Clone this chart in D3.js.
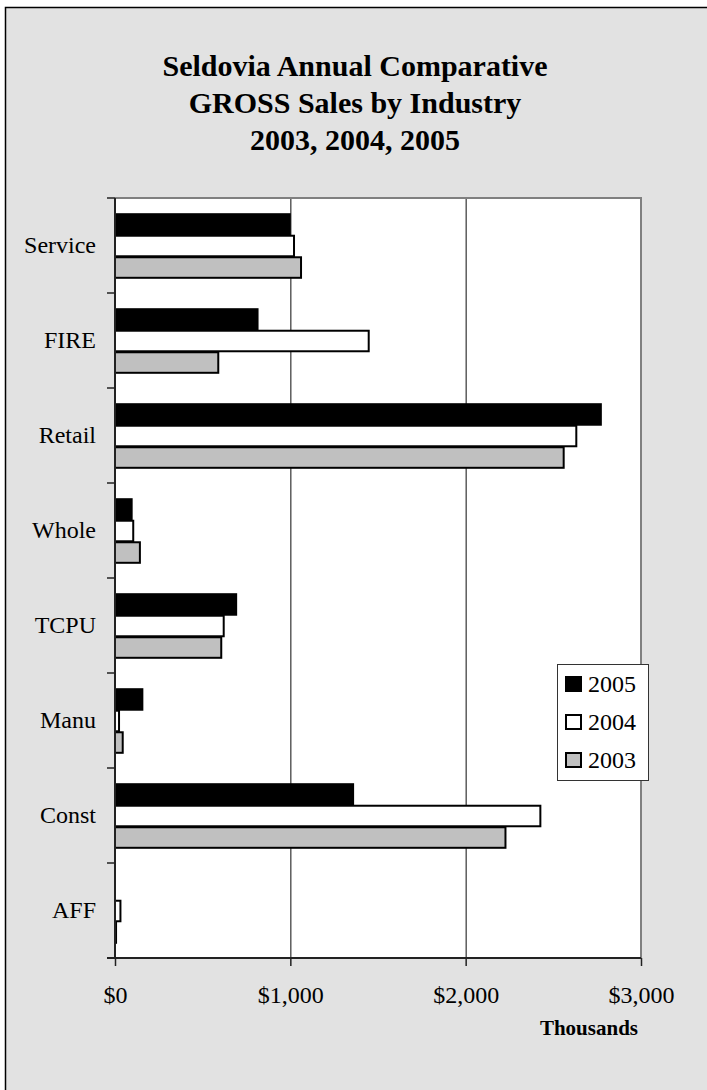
<!DOCTYPE html>
<html>
<head>
<meta charset="utf-8">
<script src="https://cdn.jsdelivr.net/npm/d3@7"></script>
<style>
  html, body { margin: 0; padding: 0; background: #ffffff; }
  svg { display: block; }
  text { font-family: "Liberation Serif", "Times New Roman", serif; fill: #000; }
</style>
</head>
<body>
<svg id="chart" width="707" height="1090"></svg>
<script>
const categories = ["Service", "FIRE", "Retail", "Whole", "TCPU", "Manu", "Const", "AFF"];
const seriesNames = ["2005", "2004", "2003"];
const values2005 = [997, 813, 2771, 95, 691, 156, 1358, 0];
const values2004 = [1021, 1447, 2631, 104, 620, 23, 2426, 31];
const values2003 = [1061, 589, 2559, 142, 606, 44, 2227, 6];
const xTicks = [0, 1000, 2000, 3000];
const titleLines = ["Seldovia Annual Comparative", "GROSS Sales by Industry", "2003, 2004, 2005"];
const axisTitle = "Thousands";

(function () {
const seriesValues = { "2005": values2005, "2004": values2004, "2003": values2003 };
const fills = { "2005": "#000000", "2004": "#ffffff", "2003": "#c0c0c0" };

const svg = d3.select("#chart");

// chart area background + border
svg.append("rect")
  .attr("x", 5.5).attr("y", 7.5)
  .attr("width", 720).attr("height", 1100)
  .attr("fill", "#e2e2e2")
  .attr("stroke", "#000").attr("stroke-width", 1.5);

const pL = 115, pR = 641, pT = 198, pB = 958;

const x = d3.scaleLinear().domain([0, 3000]).range([pL, pR]);
const y = d3.scaleBand().domain(categories).range([pT, pB])
  .paddingInner(0.32).paddingOuter(0.16);
const ySeries = d3.scaleBand().domain(seriesNames).range([0, y.bandwidth()]);

// plot area
svg.append("rect")
  .attr("x", pL).attr("y", pT)
  .attr("width", pR - pL).attr("height", pB - pT)
  .attr("fill", "#ffffff");

// gridlines
svg.append("g").selectAll("line")
  .data(xTicks.filter(d => d > 0 && d < 3000))
  .join("line")
  .attr("x1", d => x(d) + 0.5).attr("x2", d => x(d) + 0.5)
  .attr("y1", pT).attr("y2", pB)
  .attr("stroke", "#333").attr("stroke-width", 1.2);

// plot border top/right (gray)
svg.append("path")
  .attr("d", `M${pL},${pT}H${pR}V${pB}`)
  .attr("fill", "none").attr("stroke", "#808080").attr("stroke-width", 2);

// bars
const rows = categories.map((c, i) => ({ cat: c, i }));
const g = svg.append("g");
seriesNames.forEach(s => {
  g.append("g").selectAll("rect")
    .data(rows)
    .join("rect")
    .attr("x", x(0))
    .attr("y", d => y(d.cat) + ySeries(s) + 1)
    .attr("width", d => Math.max(0, x(seriesValues[s][d.i]) - x(0)))
    .attr("height", ySeries.bandwidth() - 1)
    .attr("fill", fills[s])
    .attr("stroke", d => seriesValues[s][d.i] > 0 ? "#000" : "none")
    .attr("stroke-width", 2);
});

// left axis line and ticks at band boundaries
const boundaries = d3.range(categories.length + 1).map(i => pT + i * y.step());
svg.append("line")
  .attr("x1", pL).attr("x2", pL).attr("y1", pT).attr("y2", pB)
  .attr("stroke", "#222").attr("stroke-width", 2);
svg.append("g").selectAll("line")
  .data(boundaries)
  .join("line")
  .attr("x1", pL - 8).attr("x2", pL)
  .attr("y1", d => d).attr("y2", d => d)
  .attr("stroke", "#222").attr("stroke-width", 1.5);

// category labels
svg.append("g").selectAll("text")
  .data(categories)
  .join("text")
  .attr("x", 96)
  .attr("y", d => y(d) + y.bandwidth() / 2 + 7)
  .attr("text-anchor", "end")
  .attr("font-size", 24)
  .text(d => d);

// bottom axis
const xAxis = d3.axisBottom(x)
  .tickValues(xTicks)
  .tickFormat(d => "$" + d3.format(",")(d))
  .tickSize(8)
  .tickSizeOuter(0);
const ax = svg.append("g").attr("transform", `translate(0,${pB})`).call(xAxis);
ax.select(".domain").attr("stroke", "#222").attr("stroke-width", 2)
  .attr("d", `M${pL - 8},0H${pR}`);
ax.selectAll(".tick line").attr("stroke", "#222").attr("stroke-width", 1.5);
ax.selectAll(".tick text")
  .attr("y", 45).attr("dy", 0)
  .attr("font-size", 24)
  .attr("font-family", "Liberation Serif, Times New Roman, serif")
  .attr("fill", "#000");

// axis title
svg.append("text")
  .attr("x", 638).attr("y", 1035)
  .attr("text-anchor", "end")
  .attr("font-size", 21).attr("font-weight", "bold")
  .text(axisTitle);

// title
svg.append("g").selectAll("text")
  .data(titleLines)
  .join("text")
  .attr("x", 355)
  .attr("y", (d, i) => 76 + i * 37)
  .attr("text-anchor", "middle")
  .attr("font-size", 30).attr("font-weight", "bold")
  .text(d => d);

// legend
const legend = svg.append("g");
legend.append("rect")
  .attr("x", 557.5).attr("y", 664.5).attr("width", 91).attr("height", 116)
  .attr("fill", "#fff").attr("stroke", "#333").attr("stroke-width", 1);
const legY = d3.scalePoint().domain(seriesNames).range([684, 760]);
const li = legend.selectAll("g.item").data(seriesNames).join("g").attr("class", "item");
li.append("rect")
  .attr("x", 566).attr("y", d => legY(d) - 7)
  .attr("width", 15).attr("height", 14)
  .attr("fill", d => fills[d]).attr("stroke", "#000").attr("stroke-width", 2);
li.append("text")
  .attr("x", 588).attr("y", d => legY(d) + 8)
  .attr("font-size", 24)
  .text(d => d);
})();
</script>
</body>
</html>
